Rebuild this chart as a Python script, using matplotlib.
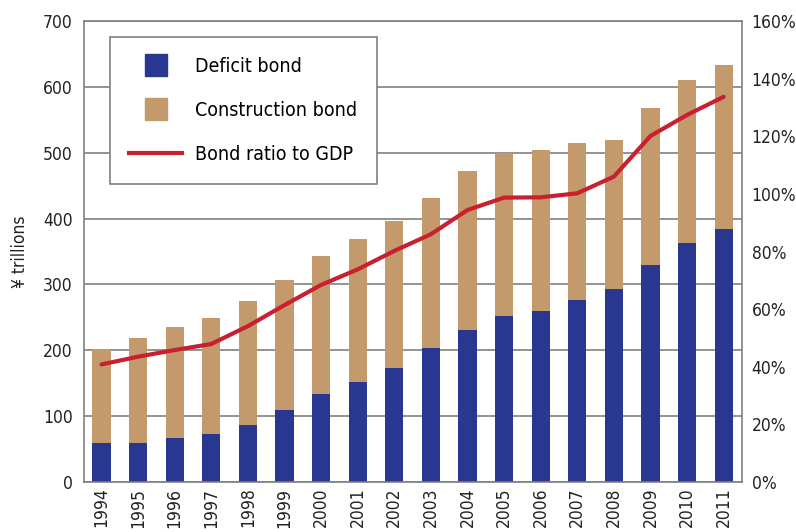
import matplotlib.pyplot as plt
from matplotlib import font_manager
from matplotlib.lines import Line2D
from matplotlib.ticker import FuncFormatter
import numpy as np

years = [str(y) for y in range(1994, 2012)]
deficit = [59, 59, 67, 73, 87, 109, 134, 152, 173, 203, 231, 252, 260, 276, 293, 330, 363, 384]
total = [202, 219, 235, 249, 275, 307, 343, 369, 396, 432, 472, 499, 504, 515, 519, 568, 610, 633]
construction = [t - d for t, d in zip(total, deficit)]
ratio = [40.8, 43.5, 45.8, 47.9, 54.1, 61.4, 68.4, 73.8, 80.2, 86.0, 94.4, 98.7, 98.8, 100.2, 106.0, 120.1, 127.4, 133.7]

blue = '#283891'
tan = '#c49a6c'
red = '#c8202f'
grid_c = '#808080'

# narrow font if there is one
names = {f.name for f in font_manager.fontManager.ttflist}
if 'Liberation Sans Narrow' in names:
    plt.rcParams['font.family'] = ['Liberation Sans Narrow', 'DejaVu Sans']
else:
    plt.rcParams['font.family'] = ['DejaVu Sans']
    plt.rcParams['font.stretch'] = 'condensed'
fs = 14
tfs = 12.5

fig = plt.figure(figsize=(7.96, 5.32), dpi=100)
ax = fig.add_axes([0.1055, 0.094, 0.8266, 0.8665])
x = np.arange(len(years))

ax.bar(x, deficit, width=0.5, color=blue, zorder=2)
ax.bar(x, construction, width=0.5, bottom=deficit, color=tan, zorder=2)
ax.set_ylim(0, 700)
ax.set_xlim(-0.48, 17.5)
ax.set_yticks(range(0, 701, 100))
ax.yaxis.grid(True, color=grid_c, linewidth=1.2, zorder=0)
ax.set_axisbelow(True)
ax.set_xticks(x)
ax.set_xticklabels(years, rotation=90)
ax.tick_params(length=0, labelsize=tfs, colors='#222222')
ax.tick_params(axis='y', pad=8)
ax.tick_params(axis='x', pad=4)
ax.set_ylabel('¥ trillions', fontsize=tfs, labelpad=10, color='#222222')
for s in ax.spines.values():
    s.set_color(grid_c)
    s.set_linewidth(1.2)

ax2 = ax.twinx()
ax2.plot(x, ratio, color=red, linewidth=3, solid_capstyle='round', zorder=5)
ax2.set_ylim(0, 160)
ax2.set_yticks(range(0, 161, 20))
ax2.yaxis.set_major_formatter(FuncFormatter(lambda v, p: f'{int(v)}%'))
ax2.tick_params(length=0, labelsize=tfs, pad=7, colors='#222222')
for s in ax2.spines.values():
    s.set_visible(False)

handles = [
    Line2D([], [], marker='s', linestyle='none', markersize=16.5, color=blue),
    Line2D([], [], marker='s', linestyle='none', markersize=16.5, color=tan),
    Line2D([], [], color=red, linewidth=3),
]
labels = ['Deficit bond', 'Construction bond', 'Bond ratio to GDP']
leg = ax2.legend(handles, labels, loc='upper left', bbox_to_anchor=(0.0395, 0.965),
                 borderaxespad=0, fontsize=fs, frameon=True, fancybox=False,
                 edgecolor=grid_c, framealpha=1, handlelength=2.7, handletextpad=0.67,
                 labelspacing=1.3, borderpad=1.0)
leg.get_frame().set_linewidth(1.2)

fig.savefig('out.png', dpi=100)
